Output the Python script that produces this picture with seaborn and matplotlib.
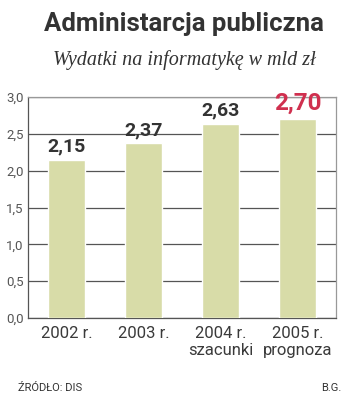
import matplotlib
matplotlib.use("Agg")
import matplotlib.pyplot as plt
import seaborn as sns
import pandas as pd

categories = ["2002 r.", "2003 r.", "2004 r.\nszacunki", "2005 r.\nprognoza"]
values = [2.15, 2.37, 2.63, 2.70]
value_labels = ["2,15", "2,37", "2,63", "2,70"]
yticks = [0.0, 0.5, 1.0, 1.5, 2.0, 2.5, 3.0]
ytick_labels = ["0,0", "0,5", "1,0", "1,5", "2,0", "2,5", "3,0"]

sns.set_theme(style="white")
plt.rcParams['font.family'] = ['Roboto', 'DejaVu Sans']

df = pd.DataFrame({"cat": categories, "val": values})

fig = plt.figure(figsize=(3.5, 4.04), dpi=100)
ax = fig.add_axes([28/350, 1-318/404, 308/350, 221/404])

sns.barplot(data=df, x="cat", y="val", color="#d8dca8", saturation=1,
            width=0.48, ax=ax, zorder=3)

ax.set_ylim(0, 3.0)
ax.set_xlim(-0.5, 3.5)
ax.set_yticks(yticks)
ax.set_yticklabels(ytick_labels, fontsize=9.5, color="#555555")
ax.yaxis.grid(True, color="#555555", linewidth=0.9, zorder=0)
ax.set_axisbelow(True)
ax.tick_params(axis='y', length=0, pad=3)
ax.tick_params(axis='x', length=0, pad=6)
ax.set_xticklabels(categories, fontsize=12, color="#3a3a3a", linespacing=1.1)
ax.set_xlabel("")
ax.set_ylabel("")
for side in ["left", "bottom"]:
    ax.spines[side].set_color("#555555")
    ax.spines[side].set_linewidth(0.9)
for side in ["top", "right"]:
    ax.spines[side].set_color("#999999")
    ax.spines[side].set_linewidth(0.9)

for i, (v, t) in enumerate(zip(values, value_labels)):
    color = "#d0304f" if i == 3 else "#333333"
    size = 17.5 if i == 3 else 14
    ax.text(i, v + 0.06, t, ha="center", va="bottom", fontsize=size,
            fontweight="bold", color=color, zorder=5)

fig.text(184/350, 1-24/404, "Administarcja publiczna", ha="center", va="center",
         fontsize=18.5, fontweight="bold", color="#333333")
fig.text(184/350, 1-60/404, "Wydatki na informatykę w mld zł", ha="center", va="center",
         fontsize=14.5, style="italic", family=["Liberation Serif"], color="#333333")
fig.text(18/350, 1-388/404, "ŹRÓDŁO: DIS", ha="left", va="center",
         fontsize=8, color="#333333")
fig.text(341/350, 1-388/404, "B.G.", ha="right", va="center",
         fontsize=8, color="#333333")

fig.savefig("out.png", dpi=100)
